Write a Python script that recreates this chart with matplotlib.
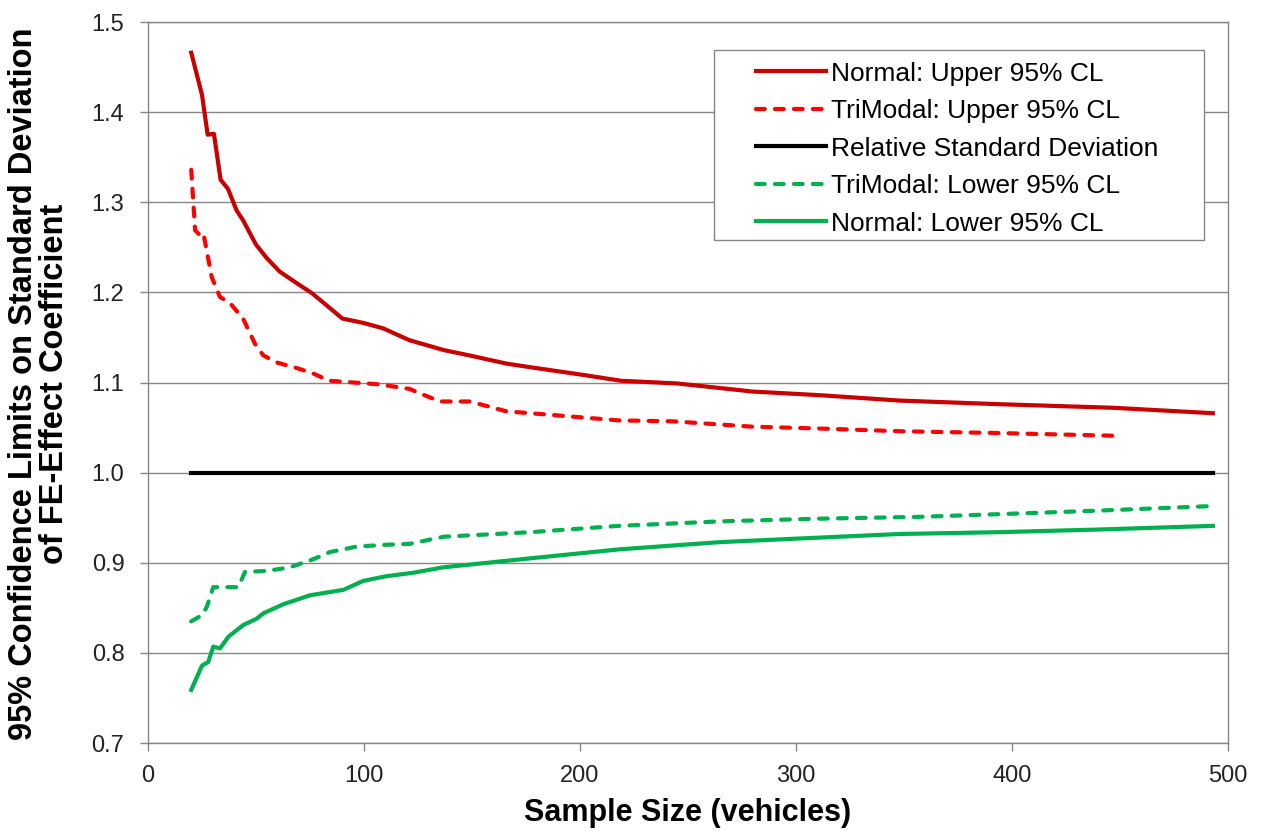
import numpy as np
import matplotlib
matplotlib.use("Agg")
import matplotlib.pyplot as plt
from matplotlib.patches import Rectangle

# values
x_nu = [20, 25, 27.6, 30.5, 33.6, 37, 41, 44, 50, 55, 61, 69, 76, 90, 100, 109, 121,
        137, 149, 166, 177, 200, 219, 245, 280, 311, 348, 394, 447, 493]
y_nu = [1.466, 1.419, 1.375, 1.376, 1.325, 1.315, 1.291, 1.280, 1.253, 1.238, 1.223,
        1.210, 1.199, 1.171, 1.166, 1.160, 1.147, 1.136, 1.130, 1.121, 1.117, 1.109,
        1.102, 1.099, 1.090, 1.086, 1.080, 1.076, 1.072, 1.066]

x_tu = [20, 21.8, 23.8, 25.6, 29.5, 33.3, 38, 44, 49.5, 53.4, 60, 69, 76.5, 84, 107,
        121, 135, 149, 166, 177, 218, 243, 280, 311, 348, 394, 447]
y_tu = [1.336, 1.269, 1.264, 1.266, 1.217, 1.195, 1.188, 1.171, 1.143, 1.130, 1.122,
        1.116, 1.110, 1.102, 1.098, 1.093, 1.079, 1.079, 1.068, 1.066, 1.058, 1.057,
        1.051, 1.049, 1.046, 1.044, 1.041]

x_rsd = [20, 493]
y_rsd = [1.0, 1.0]

x_tl = [20, 25, 27.2, 30.2, 38, 41.8, 44.9, 55, 65.7, 76.5, 84.3, 96.6, 110, 121, 137,
        177, 218, 265, 311, 357, 394, 441, 493]
y_tl = [0.835, 0.842, 0.851, 0.873, 0.873, 0.873, 0.890, 0.891, 0.895, 0.904, 0.912,
        0.918, 0.920, 0.921, 0.929, 0.934, 0.941, 0.946, 0.949, 0.951, 0.954, 0.958, 0.963]

x_nl = [20, 25, 27.9, 30.2, 33.3, 37.2, 44.1, 50.3, 53.4, 62.6, 75, 90.4, 99.7, 110,
        122.8, 136.7, 177, 218.5, 265, 311, 348, 394, 441, 493]
y_nl = [0.759, 0.786, 0.790, 0.807, 0.805, 0.818, 0.831, 0.838, 0.844, 0.854, 0.864,
        0.870, 0.880, 0.885, 0.889, 0.895, 0.905, 0.915, 0.923, 0.928, 0.932, 0.934,
        0.937, 0.941]

x_ticks = [0, 100, 200, 300, 400, 500]
y_ticks = [0.7, 0.8, 0.9, 1.0, 1.1, 1.2, 1.3, 1.4, 1.5]

plt.rcParams['font.family'] = ['Liberation Sans', 'DejaVu Sans']

fig = plt.figure(figsize=(12.61, 8.34), dpi=100)
ax = fig.add_axes([0.1174, 0.109, 0.8564, 0.8646])

lw = 3.0
dash = (2.1, 2.45)
ax.plot(x_nu, y_nu, color='#C80000', lw=lw, label='Normal: Upper 95% CL')
ax.plot(x_tu, y_tu, color='#FF0000', lw=lw, dashes=dash, dash_capstyle='round',
        label='TriModal: Upper 95% CL')
ax.plot(x_rsd, y_rsd, color='black', lw=lw, label='Relative Standard Deviation')
ax.plot(x_tl, y_tl, color='#00B050', lw=lw, dashes=dash, dash_capstyle='round',
        label='TriModal: Lower 95% CL')
ax.plot(x_nl, y_nl, color='#00B050', lw=lw, label='Normal: Lower 95% CL')

ax.set_xlim(0, 500)
ax.set_ylim(0.7, 1.5)
ax.set_xticks(x_ticks)
ax.set_yticks(y_ticks)
ax.set_yticklabels(['%.1f' % v for v in y_ticks])
ax.yaxis.grid(True, color='#868686', lw=1.0)
ax.set_axisbelow(True)
for s in ax.spines.values():
    s.set_color('#868686')
    s.set_linewidth(1.0)
ax.tick_params(axis='both', direction='out', length=6, color='#868686', width=1.0,
               labelsize=17, labelcolor='#222222')
ax.tick_params(axis='x', pad=10)
ax.tick_params(axis='y', pad=11)

ax.set_xlabel('Sample Size (vehicles)', fontsize=22, fontweight='bold', labelpad=8)
ax.set_ylabel('95% Confidence Limits on Standard Deviation\nof FE-Effect Coefficient',
              fontsize=23.5, fontweight='bold', linespacing=1.0)
ax.yaxis.set_label_coords(-0.072, 0.498)

# legend box drawn separately: the original has wide side padding
ax.add_patch(Rectangle((0.524, 0.698), 0.454, 0.263, transform=ax.transAxes,
                       facecolor='white', edgecolor='#868686', lw=1.0, zorder=4))
leg = ax.legend(loc='upper left', bbox_to_anchor=(0.563, 0.945), fontsize=19,
                handlelength=2.65, handletextpad=0.2, labelspacing=0.51,
                borderpad=0, borderaxespad=0, frameon=False)
leg.set_zorder(5)

fig.savefig('out.png', dpi=100)
